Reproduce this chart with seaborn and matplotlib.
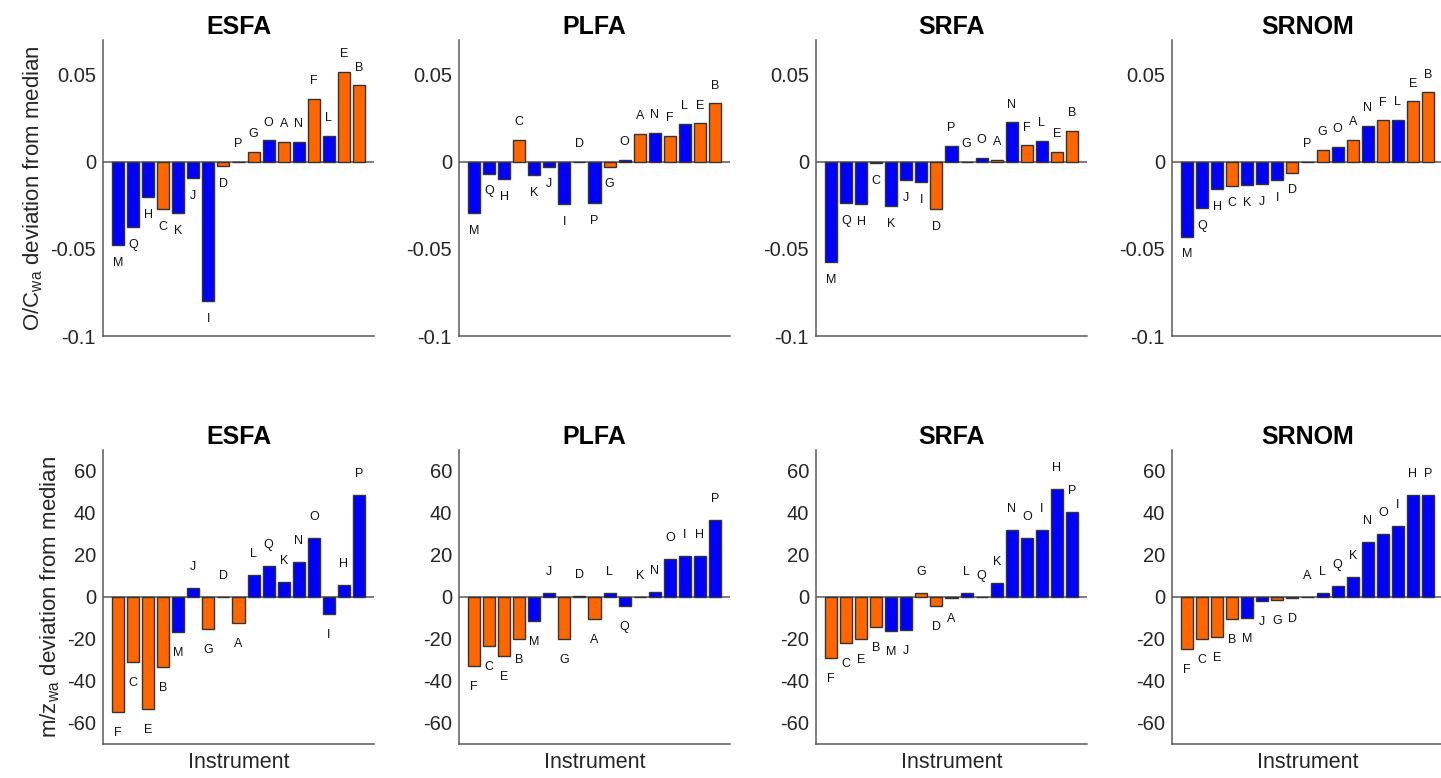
import matplotlib
matplotlib.use('Agg')
import pandas as pd
import matplotlib.pyplot as plt
import seaborn as sns

# Valores (desvio da mediana por instrumento)
samples = ['ESFA', 'PLFA', 'SRFA', 'SRNOM']
oc_order = list('MQHCKJIDPGOANFLEB')
mz_order = list('FCEBMJGDALQKNOIHP')

oc_esfa = [-0.0479, -0.0374, -0.0202, -0.0271, -0.0294, -0.0092, -0.0800, -0.0023, 0.0,
           0.0057, 0.0124, 0.0116, 0.0115, 0.0363, 0.0151, 0.0519, 0.0439]
oc_plfa = [-0.0294, -0.0067, -0.0099, 0.0126, -0.0076, -0.0027, -0.0244, 0.0, -0.0239,
           -0.0027, 0.0013, 0.0160, 0.0166, 0.0149, 0.0218, 0.0221, 0.0336]
oc_srfa = [-0.0576, -0.0235, -0.0244, -0.0005, -0.0254, -0.0105, -0.0118, -0.0271, 0.0094,
           0.0, 0.0025, 0.0011, 0.0227, 0.0095, 0.0122, 0.0057, 0.0179]
oc_srnom = [-0.0429, -0.0267, -0.0155, -0.0137, -0.0134, -0.0128, -0.0103, -0.0061, 0.0,
            0.0067, 0.0084, 0.0128, 0.0208, 0.0239, 0.0242, 0.0347, 0.0399]

mz_esfa = [-54.7, -31.0, -53.3, -33.1, -16.5, 4.1, -15.4, 0.0, -12.6,
           10.7, 14.6, 7.3, 16.5, 28.3, -8.3, 5.7, 48.4]
mz_plfa = [-32.9, -23.2, -28.2, -20.0, -11.6, 1.75, -19.9, 0.3, -10.3,
           2.1, -4.5, 0.0, 2.2, 18.3, 19.4, 19.4, 36.8]
mz_srfa = [-29.1, -22.0, -19.9, -14.3, -16.4, -15.6, 1.9, -4.3, -0.6,
           1.75, 0.0, 6.8, 32.0, 28.3, 31.7, 51.2, 40.3]
mz_srnom = [-24.7, -20.0, -18.9, -10.5, -10.0, -2.1, -1.4, -0.6, 0.0,
            2.1, 5.25, 9.5, 26.1, 29.9, 33.7, 48.7, 48.8]

oc_values = [oc_esfa, oc_plfa, oc_srfa, oc_srnom]
mz_values = [mz_esfa, mz_plfa, mz_srfa, mz_srnom]

grupo_laranja = set('ABCDEFG')
cores = {'laranja': '#FF6600', 'azul': '#0000FF'}

sns.set_style('white')
plt.rcParams['font.family'] = ['Liberation Sans', 'DejaVu Sans']
plt.rcParams['mathtext.fontset'] = 'custom'
plt.rcParams['mathtext.rm'] = 'Liberation Sans'
plt.rcParams['mathtext.it'] = 'Liberation Sans:italic'

fig = plt.figure(figsize=(14.41, 7.78), dpi=100)

W, H = 1441, 778
lefts = [103, 459, 816, 1172]
largura = 271
linhas = [
    # (topo, base, ordem, valores, ylim, yticks, rótulos, deslocamento, ylabel)
    (40, 336, oc_order, oc_values, (-0.1, 0.07), [-0.1, -0.05, 0, 0.05],
     ['-0.1', '-0.05', '0', '0.05'], 0.0102, 'O/C$_{\\mathrm{wa}}$ deviation from median'),
    (450, 744, mz_order, mz_values, (-70, 70), [-60, -40, -20, 0, 20, 40, 60],
     ['-60', '-40', '-20', '0', '20', '40', '60'], 10.0, 'm/z$_{\\mathrm{wa}}$ deviation from median'),
]

cinza = '#5a5a5a'

for r, (topo, base, ordem, valores, ylim, yticks, ylabels, desl, ylabel) in enumerate(linhas):
    for c, amostra in enumerate(samples):
        ax = fig.add_axes([lefts[c] / W, 1 - base / H, largura / W, (base - topo) / H])
        df = pd.DataFrame({'inst': ordem, 'valor': valores[c]})
        df['grupo'] = ['laranja' if l in grupo_laranja else 'azul' for l in df['inst']]
        sns.barplot(data=df, x='inst', y='valor', hue='grupo', order=ordem,
                    palette=cores, dodge=False, errorbar=None, legend=False,
                    saturation=1, width=0.8, edgecolor='#333333', linewidth=1.0, ax=ax)
        ax.axhline(0, color=cinza, lw=1.1, zorder=0)

        # rótulos das barras
        for i, (letra, v) in enumerate(zip(ordem, valores[c])):
            y = v - desl if v < 0 else v + desl
            ax.text(i, y, letra, ha='center', va='center', fontsize=9, color='#111111')

        ax.set_xlim(-1, 17)
        ax.set_ylim(*ylim)
        ax.set_xticks([4, 9, 14])
        ax.set_xticklabels([])
        ax.set_yticks(yticks)
        ax.set_yticklabels(ylabels, fontsize=14.5, color='#262626')
        ax.tick_params(direction='in', length=4, color=cinza, width=1, pad=5)
        ax.set_title(amostra, fontsize=18, fontweight='bold', pad=4, color='black')
        for s in ['top', 'right']:
            ax.spines[s].set_visible(False)
        for s in ['left', 'bottom']:
            ax.spines[s].set_color(cinza)
            ax.spines[s].set_linewidth(1.1)
        ax.set_xlabel('Instrument' if r == 1 else '', fontsize=15.5, color='#262626', labelpad=1)
        if c == 0:
            ax.set_ylabel(ylabel, fontsize=16, color='#262626', labelpad=4)
        else:
            ax.set_ylabel('')

fig.savefig('out.png', dpi=100)
